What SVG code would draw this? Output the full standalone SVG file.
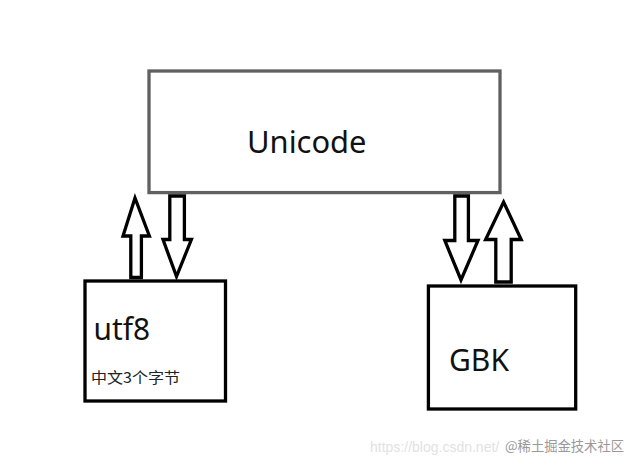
<svg xmlns="http://www.w3.org/2000/svg" width="639" height="469" viewBox="0 0 639 469">
<style>
.box{fill:#fff;stroke:#000;stroke-width:3.3}
.arrow{fill:#fff;stroke:#000;stroke-width:3.3;stroke-linejoin:miter}
.lbl{font-family:"Noto Sans","Open Sans","DejaVu Sans",sans-serif;fill:#111}
.cjk{font-family:"Noto Sans CJK SC","Noto Sans",sans-serif;fill:#222}
</style>
<rect width="639" height="469" fill="#fff"/>
<g id="unicode">
<rect x="149" y="71" width="351" height="121.6" fill="#fff" stroke="#606060" stroke-width="3.3"/>
<text class="lbl" x="247" y="152.7" font-size="31" textLength="119.5" lengthAdjust="spacingAndGlyphs">Unicode</text>
</g>
<g id="utf8">
<rect class="box" x="85" y="281" width="140.5" height="120"/>
<text class="lbl" x="93.5" y="340" font-size="30" textLength="56.5" lengthAdjust="spacingAndGlyphs">utf8</text>
<text class="cjk" x="91" y="383" font-size="15" textLength="89" lengthAdjust="spacingAndGlyphs">中文3个字节</text>
</g>
<g id="gbk">
<rect class="box" x="428.4" y="286" width="147.3" height="123"/>
<text class="lbl" x="449" y="370.7" font-size="30" textLength="60" lengthAdjust="spacingAndGlyphs">GBK</text>
</g>
<g id="connectors">
<polygon class="arrow" points="130.8,277.5 130.8,236 123,236 135,198 149.4,236 141.4,236 141.4,277.5"/>
<polygon class="arrow" points="169.8,196 184.4,196 184.4,239.5 191.4,239.5 176.5,276.5 163,239.5 169.8,239.5"/>
<polygon class="arrow" points="454.8,196 468.4,196 468.4,240.5 478,240.5 461,280 444.8,240.5 454.8,240.5"/>
<polygon class="arrow" points="495.8,282 495.8,239.5 485.6,239.5 503.6,202 521.2,239.5 511.2,239.5 511.2,282"/>
</g>
<g id="watermark">
<text x="370" y="452" font-family="Liberation Sans,Arial,sans-serif" font-size="14" fill="#e2e2e2">https://blog.csdn.net/</text>
<rect x="503" y="437" width="124" height="19" fill="#fff" opacity="0.85"/>
<text x="505" y="451" font-family="Noto Sans CJK SC,Noto Sans,sans-serif" font-size="13.5" fill="#999" textLength="119" lengthAdjust="spacingAndGlyphs">@稀土掘金技术社区</text>
</g>
</svg>
